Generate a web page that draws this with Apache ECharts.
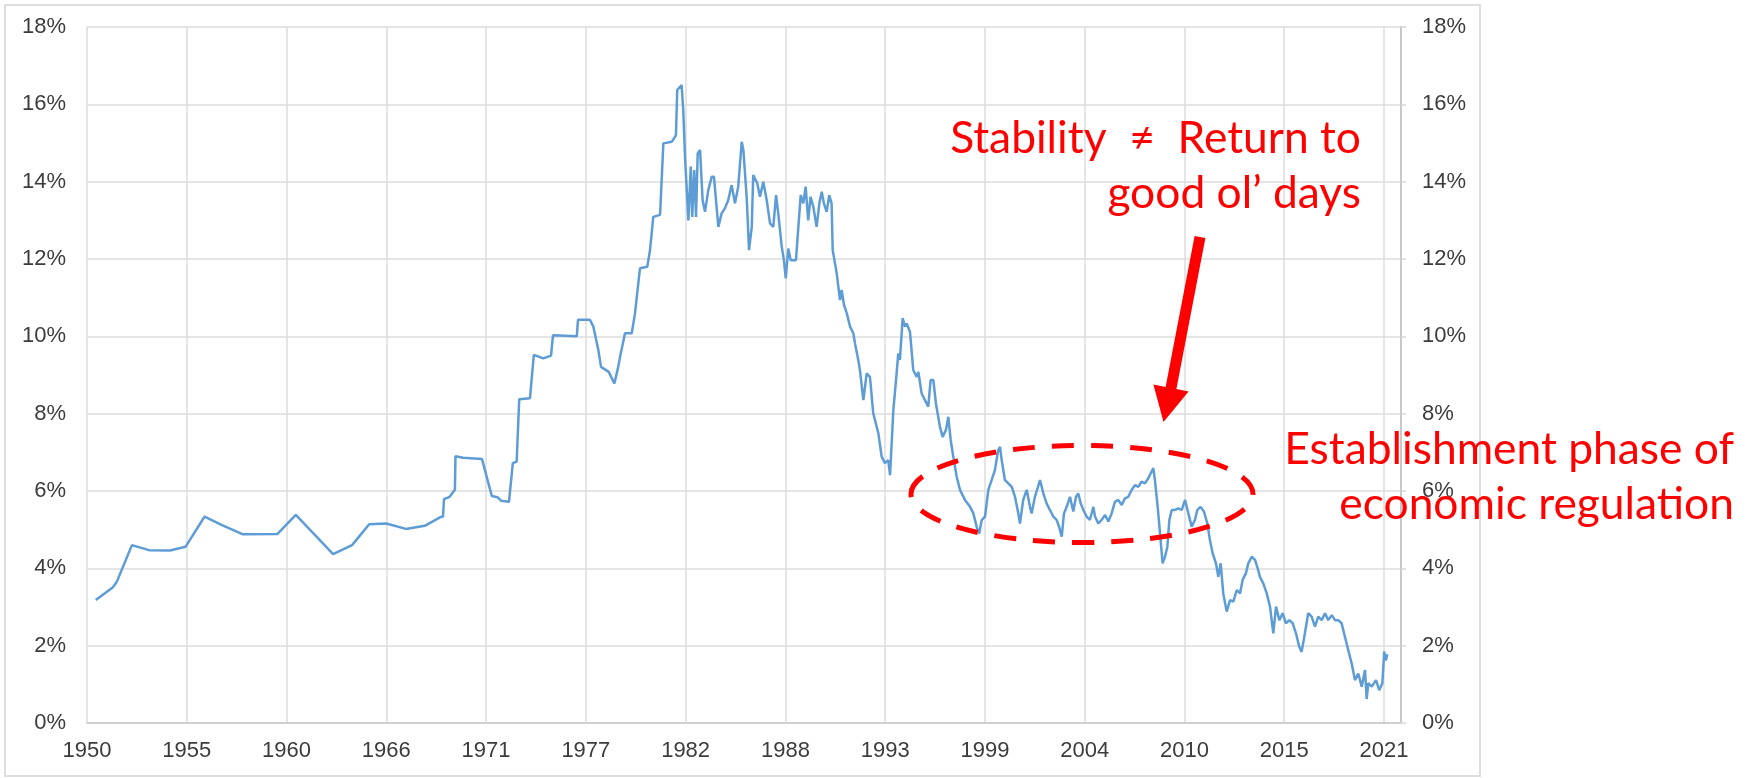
<!DOCTYPE html>
<html>
<head>
<meta charset="utf-8">
<script src="https://cdn.jsdelivr.net/npm/echarts@6/dist/echarts.min.js"></script>
<style>
html,body{margin:0;padding:0;background:#fff;}
#chart{width:1747px;height:778px;}
</style>
</head>
<body>
<div id="chart"></div>
<script>
// ---------- data ----------
const xTickLabels = ['1950','1955','1960','1966','1971','1977','1982','1988','1993','1999','2004','2010','2015','2021'];

// 1950 - 1979
const years1 = [1950.48,1951.42,1951.63,1952.46,1953.39,1954.54,1955.40,1956.44,1957.39,1958.54,
1960.43,1961.43,1962.42,1963.47,1964.51,1965.45,1966.39,1967.45,1968.49,1969.32,
1969.49,1969.54,1969.85,1970.14,1970.17,1970.58,1971.62,1972.16,1972.47,1972.66,
1973.10,1973.31,1973.52,1973.66,1974.25,1974.46,1974.98,1975.40,1975.51,1976.81,
1976.88,1977.53,1977.72,1977.99,1978.14,1978.56,1978.87,1979.08];
const rates1 = [3.18,3.51,3.65,4.60,4.47,4.46,4.56,5.34,5.12,4.88,
4.89,5.38,4.89,4.37,4.60,5.14,5.16,5.02,5.10,5.32,
5.34,5.79,5.85,6.03,6.90,6.86,6.83,5.87,5.84,5.75,
5.72,6.72,6.76,8.37,8.40,9.52,9.43,9.50,10.03,10.00,
10.43,10.43,10.25,9.65,9.21,9.08,8.78,9.21];

// 1979 - 1992
const years2 = [1979.18,1979.45,1979.82,1980.00,1980.27,1980.67,1980.82,1981.00,1981.37,1981.55,
1982.01,1982.24,1982.31,1982.55,1982.64,1982.74,1982.83,1982.92,1983.05,1983.13,
1983.24,1983.34,1983.43,1983.56,1983.70,1983.83,1984.01,1984.20,1984.32,1984.56,
1984.74,1984.92,1985.10,1985.29,1985.47,1985.65,1985.84,1985.93,1986.11,1986.24,
1986.39,1986.47,1986.69,1986.84,1987.02,1987.21,1987.39,1987.57,1987.72,1987.84,
1988.03,1988.15,1988.25,1988.39,1988.52,1988.81,1988.94,1989.07,1989.21,1989.34,
1989.48,1989.61,1989.76,1989.94,1990.09,1990.22,1990.34,1990.49,1990.63,1990.76,
1990.82,1991.04,1991.22,1991.31,1991.44,1991.59,1991.77,1991.95,1992.04,1992.22];
const rates2 = [9.47,10.08,10.08,10.60,11.76,11.80,12.23,13.09,13.14,14.99,
15.03,15.20,16.37,16.50,15.85,14.60,14.56,13.00,14.39,13.09,
14.30,13.09,14.73,14.82,13.52,13.22,13.78,14.13,14.13,12.83,
13.18,13.31,13.52,13.91,13.44,13.87,15.03,14.82,13.61,12.23,
12.83,14.17,13.96,13.61,14.00,13.52,12.92,12.83,13.65,13.18,
12.32,11.97,11.50,12.27,11.97,11.97,12.83,13.65,13.44,13.87,
13.00,13.61,13.35,12.83,13.44,13.74,13.44,13.22,13.65,13.44,
12.23,11.63,10.94,11.20,10.81,10.60,10.25,10.08,9.82,9.39];

// 1992 - 2021
const years3 = [1992.31,1992.50,1992.68,1992.86,1993.04,1993.32,1993.50,1993.68,1993.86,1993.96,
1994.14,1994.32,1994.41,1994.50,1994.65,1994.78,1994.87,1995.05,1995.23,1995.42,
1995.51,1995.69,1995.87,1996.05,1996.18,1996.33,1996.47,1996.69,1996.84,1997.02,
1997.15,1997.28,1997.42,1997.61,1997.79,1998.06,1998.34,1998.52,1998.70,1998.84,
1998.98,1999.16,1999.34,1999.52,1999.70,1999.88,1999.98,2000.07,2000.25,2000.43,
2000.62,2000.80,2000.98,2001.07,2001.25,2001.44,2001.62,2001.71,2001.89,2002.17,
2002.35,2002.53,2002.71,2002.90,2003.08,2003.21,2003.36,2003.48,2003.63,2003.81,
2003.99,2004.14,2004.26,2004.40,2004.54,2004.72,2004.90,2005.09,2005.18,2005.36,
2005.54,2005.73,2005.91,2006.09,2006.27,2006.45,2006.64,2006.82,2007.00,2007.19,
2007.37,2007.55,2007.73,2007.91,2008.10,2008.23,2008.37,2008.46,2008.61,2008.74,
2008.88,2009.01,2009.14,2009.25,2009.38,2009.56,2009.74,2009.93,2010.11,2010.29,
2010.47,2010.65,2010.78,2010.96,2011.14,2011.33,2011.47,2011.62,2011.80,2011.93,
2012.06,2012.20,2012.39,2012.57,2012.75,2012.94,2013.12,2013.26,2013.44,2013.57,
2013.76,2013.94,2014.06,2014.21,2014.39,2014.58,2014.76,2014.94,2015.09,2015.27,
2015.45,2015.63,2015.82,2016.00,2016.18,2016.36,2016.49,2016.67,2016.85,2017.04,
2017.22,2017.40,2017.59,2017.77,2017.95,2018.14,2018.32,2018.50,2018.68,2018.86,
2019.04,2019.23,2019.41,2019.59,2019.78,2019.96,2020.05,2020.14,2020.33,2020.56,
2020.74,2020.91,2021.01,2021.10,2021.18];
const rates3 = [9.13,8.35,9.04,8.95,8.01,7.49,6.89,6.72,6.80,6.41,
8.09,9.04,9.56,9.39,10.47,10.25,10.33,10.12,9.13,8.95,
9.08,8.52,8.35,8.18,8.87,8.87,8.27,7.66,7.40,7.58,
7.92,7.32,6.89,6.37,6.03,5.77,5.59,5.42,5.08,4.90,
5.25,5.34,6.03,6.28,6.54,7.06,7.14,6.80,6.28,6.20,
6.11,5.85,5.42,5.16,5.77,6.03,5.59,5.42,5.85,6.28,
5.94,5.68,5.51,5.34,5.25,5.08,4.82,5.42,5.59,5.85,
5.47,5.85,5.94,5.68,5.51,5.34,5.25,5.59,5.34,5.16,
5.25,5.38,5.21,5.42,5.72,5.77,5.64,5.81,5.85,6.03,
6.15,6.11,6.24,6.20,6.33,6.46,6.59,6.28,5.59,4.90,
4.13,4.30,4.56,5.25,5.51,5.51,5.55,5.51,5.77,5.42,
5.08,5.25,5.51,5.59,5.47,5.16,4.73,4.39,4.13,3.78,
4.13,3.35,2.88,3.18,3.14,3.44,3.35,3.70,3.87,4.13,
4.30,4.22,4.04,3.78,3.61,3.35,3.01,2.32,3.01,2.66,
2.84,2.58,2.66,2.58,2.32,1.97,1.84,2.32,2.84,2.75,
2.49,2.75,2.66,2.84,2.66,2.79,2.66,2.66,2.58,2.23,
1.89,1.54,1.11,1.28,0.94,1.37,0.62,1.03,0.94,1.11,
0.85,1.03,1.85,1.62,1.78];

const annotationTop = ['Stability  \u2260  Return to', 'good ol\u2019 days'];
const annotationSide = ['Establishment phase of', 'economic regulation'];

// ---------- build ----------
const X0 = 1950;
const xStep = (2021 - 1950) / (xTickLabels.length - 1);
const years = years1.concat(years2, years3);
const rates = rates1.concat(rates2, rates3);
const seriesData = years.map((y, i) => [y - X0, rates[i]]);

const axisFont = "'Liberation Sans', Arial, sans-serif";
const annFamily = "Lato, 'Open Sans', sans-serif";
function fitFont(text, target) {
  const c = document.createElement('canvas').getContext('2d');
  c.font = '100px ' + annFamily;
  return 100 * target / c.measureText(text).width;
}
const annSize = (fitFont(annotationSide[0], 453) + fitFont(annotationTop[0], 408)) / 2;
const midOff = annSize * 0.33;
const red = '#ff0000';

const chart = echarts.init(document.getElementById('chart'), null, {renderer: 'canvas'});
chart.setOption({
  animation: false,
  backgroundColor: '#ffffff',
  grid: {left: 87, right: 346, top: 27, bottom: 55, containLabel: false},
  xAxis: {
    type: 'value',
    min: 0,
    max: 71.93,
    interval: xStep,
    axisLine: {show: true, lineStyle: {color: '#cfcfcf', width: 2}},
    axisTick: {show: false},
    splitLine: {show: true, lineStyle: {color: '#dcdcdc', width: 1.5}},
    axisLabel: {
      margin: 17,
      fontSize: 22,
      fontFamily: axisFont,
      color: '#3c3c3c',
      formatter: function (v) {
        const i = Math.round(v / xStep);
        if (Math.abs(v - i * xStep) > 1e-3 || i >= xTickLabels.length) return '';
        return xTickLabels[i];
      }
    }
  },
  yAxis: [{
    type: 'value', min: 0, max: 18, interval: 2, position: 'left',
    axisLine: {show: false}, axisTick: {show: false},
    splitLine: {show: true, lineStyle: {color: '#dcdcdc', width: 1.5}},
    axisLabel: {margin: 21, fontSize: 22, fontFamily: axisFont, color: '#3c3c3c', formatter: '{value}%'}
  }, {
    type: 'value', min: 0, max: 18, interval: 2, position: 'right',
    axisLine: {show: true, lineStyle: {color: '#c8c8c8', width: 2}},
    axisTick: {show: true, length: 5, lineStyle: {color: '#d8d8d8', width: 1.5}},
    splitLine: {show: false},
    axisLabel: {margin: 21, fontSize: 22, fontFamily: axisFont, color: '#3c3c3c', formatter: '{value}%'}
  }],
  series: [{
    type: 'line',
    data: seriesData,
    showSymbol: false,
    symbol: 'none',
    lineStyle: {color: '#5e9cd6', width: 2.5},
    z: 3
  }],
  graphic: [
    {type: 'rect', z: 50, shape: {x: 5, y: 5, width: 1475, height: 771},
     style: {fill: 'none', stroke: '#dedede', lineWidth: 2}},
    {type: 'ellipse', z: 100, shape: {cx: 1082, cy: 494, rx: 171, ry: 48.5},
     style: {fill: 'none', stroke: red, lineWidth: 5, lineDash: [22, 17]}},
    {type: 'polygon', z: 100,
     shape: {points: [[1205.4, 238.1], [1176.4, 389.1], [1188.6, 391.5], [1163.5, 422], [1153.4, 384.5], [1165.6, 386.9], [1194.6, 235.9]]},
     style: {fill: red, stroke: 'none'}},
    {type: 'text', z: 100, x: 1361, y: 153 - midOff,
     style: {text: annotationTop[0], fill: red, fontSize: annSize, fontFamily: annFamily, align: 'right', verticalAlign: 'middle'}},
    {type: 'text', z: 100, x: 1361, y: 208 - midOff,
     style: {text: annotationTop[1], fill: red, fontSize: annSize, fontFamily: annFamily, align: 'right', verticalAlign: 'middle'}},
    {type: 'text', z: 100, x: 1734, y: 464 - midOff,
     style: {text: annotationSide[0], fill: red, fontSize: annSize, fontFamily: annFamily, align: 'right', verticalAlign: 'middle'}},
    {type: 'text', z: 100, x: 1734, y: 519 - midOff,
     style: {text: annotationSide[1], fill: red, fontSize: annSize, fontFamily: annFamily, align: 'right', verticalAlign: 'middle'}}
  ]
});
</script>
</body>
</html>
